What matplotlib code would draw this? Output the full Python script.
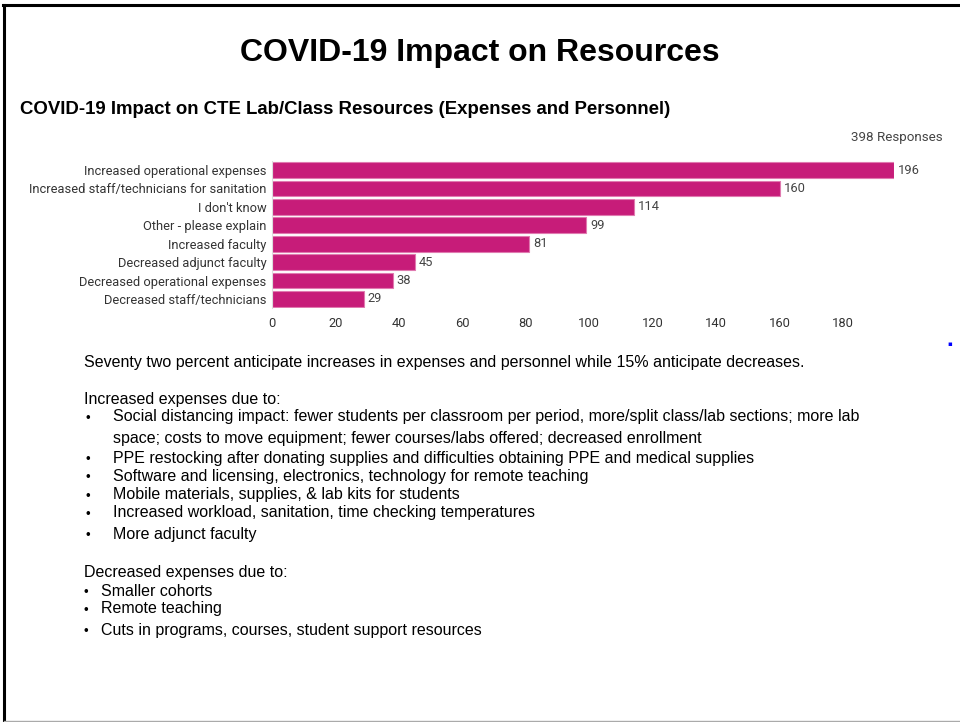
import matplotlib
matplotlib.use("Agg")
import matplotlib.pyplot as plt
from matplotlib.lines import Line2D

# data
categories = [
    "Increased operational expenses",
    "Increased staff/technicians for sanitation",
    "I don't know",
    "Other - please explain",
    "Increased faculty",
    "Decreased adjunct faculty",
    "Decreased operational expenses",
    "Decreased staff/technicians",
]
counts = [196, 160, 114, 99, 81, 45, 38, 29]
xticks = [0, 20, 40, 60, 80, 100, 120, 140, 160, 180]
responses = "398 Responses"

title = "COVID-19 Impact on Resources"
subtitle = "COVID-19 Impact on CTE Lab/Class Resources (Expenses and Personnel)"
summary = "Seventy two percent anticipate increases in expenses and personnel while 15% anticipate decreases."
inc_head = "Increased expenses due to:"
inc_items = [
    "Social distancing impact: fewer students per classroom per period, more/split class/lab sections; more lab\nspace; costs to move equipment; fewer courses/labs offered; decreased enrollment",
    "PPE restocking after donating supplies and difficulties obtaining PPE and medical supplies",
    "Software and licensing, electronics, technology for remote teaching",
    "Mobile materials, supplies, & lab kits for students",
    "Increased workload, sanitation, time checking temperatures",
    "More adjunct faculty",
]
dec_head = "Decreased expenses due to:"
dec_items = [
    "Smaller cohorts",
    "Remote teaching",
    "Cuts in programs, courses, student support resources",
]

W, H = 960, 722
fig = plt.figure(figsize=(9.6, 7.22), dpi=100)

def fx(px):
    return px / W

def fy(py):
    return 1 - py / H

# slide border
fig.add_artist(Line2D([fx(3), 1], [fy(5), fy(5)], color="black", lw=2.2))
fig.add_artist(Line2D([fx(4), fx(4)], [fy(5), fy(721)], color="black", lw=2.2))
fig.add_artist(Line2D([fx(4), 1], [fy(721), fy(721)], color="#aaaaaa", lw=1))

# titles
fig.text(0.5, fy(53), title, ha="center", va="center", fontsize=23,
         fontweight="bold", family="Liberation Sans")
fig.text(fx(20), fy(110), subtitle, ha="left", va="center", fontsize=13.4,
         fontweight="bold", family="Liberation Sans")
fig.text(fx(943), fy(137), responses, ha="right", va="center", fontsize=9.6,
         color="#444444", family="Roboto")

# bar chart
ax = fig.add_axes([fx(272), fy(308.2), fx(621.8), (308.2 - 160.8) / H])
y = list(range(len(categories)))
ax.barh(y, counts, height=0.86, color="#C71C79", edgecolor="#E07AB0", linewidth=0.8)
ax.set_ylim(len(categories) - 0.5, -0.5)
ax.set_xlim(0, 196)
ax.set_yticks(y)
ax.set_yticklabels(categories, family="Roboto", fontsize=9.3, color="#333333")
ax.set_xticks(xticks)
ax.set_xticklabels([str(t) for t in xticks], family="Roboto", fontsize=9.3, color="#333333")
ax.tick_params(axis="both", length=0, pad=4)
ax.tick_params(axis="x", pad=6)
for s in ["top", "right", "bottom"]:
    ax.spines[s].set_visible(False)
ax.spines["left"].set_color("#dddddd")
for yi, c in zip(y, counts):
    ax.text(c + 1.2, yi, str(c), va="center", ha="left", fontsize=9.3,
            color="#444444", family="Roboto", clip_on=False)

# small blue mark at right edge
fig.text(fx(950), fy(344), "\u25aa", color="blue", fontsize=5, ha="center", va="center")

# text body
body = dict(fontsize=11.5, family="Liberation Sans", color="black", va="center")
bullet = dict(fontsize=9.5, family="Liberation Sans", color="black", va="center")
fig.text(fx(84), fy(362), summary, **body)
fig.text(fx(84), fy(399), inc_head, **body)
inc_y = [417, 458, 476, 495, 513, 534]
for yy, item in zip(inc_y, inc_items):
    fig.text(fx(86), fy(yy + 2), "\u2022", **bullet)
    if "\n" in item:
        l1, l2 = item.split("\n")
        fig.text(fx(113), fy(yy), l1, **body)
        fig.text(fx(113), fy(438), l2, **body)
    else:
        fig.text(fx(113), fy(yy), item, **body)
fig.text(fx(84), fy(573), dec_head, **body)
dec_y = [591, 609, 630]
for yy, item in zip(dec_y, dec_items):
    fig.text(fx(84), fy(yy + 2), "\u2022", **bullet)
    fig.text(fx(101), fy(yy), item, **body)

fig.savefig("out.png", dpi=100)
